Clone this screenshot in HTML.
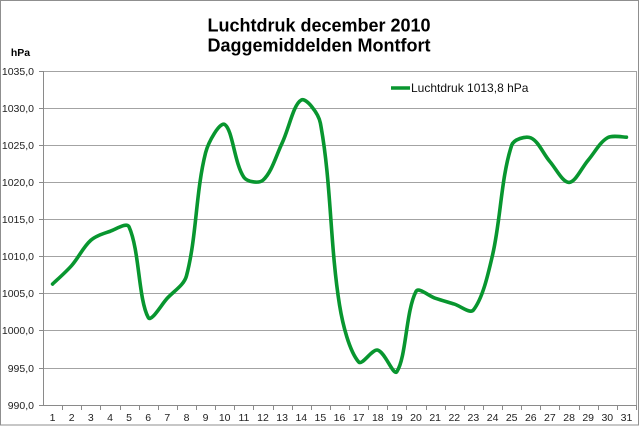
<!DOCTYPE html>
<html>
<head>
<meta charset="utf-8">
<style>
  html,body{margin:0;padding:0;background:#fff;}
  body{width:640px;height:426px;overflow:hidden;}
  svg{display:block;font-family:"Liberation Sans",Arial,sans-serif;}
</style>
</head>
<body>
<svg width="640" height="426" viewBox="0 0 640 426" xmlns="http://www.w3.org/2000/svg">
  <rect x="0" y="0" width="640" height="426" fill="#ffffff"/>
  <!-- outer border -->
  <rect x="0.5" y="0.5" width="638" height="424.5" fill="none" stroke="#8f8f8f" stroke-width="1"/>

  <!-- title -->
  <text x="319" y="31.5" text-anchor="middle" font-size="18" font-weight="bold" fill="#000">Luchtdruk december 2010</text>
  <text x="319" y="51.5" text-anchor="middle" font-size="18" font-weight="bold" fill="#000">Daggemiddelden Montfort</text>

  <!-- unit -->
  <text x="20.5" y="56" text-anchor="middle" font-size="10.5" font-weight="bold" fill="#000">hPa</text>

  <!-- gridlines -->
  <g stroke="#a3a3a3" stroke-width="1">
    <line x1="43" y1="71.5" x2="636" y2="71.5"/>
    <line x1="43" y1="108.5" x2="636" y2="108.5"/>
    <line x1="43" y1="145.5" x2="636" y2="145.5"/>
    <line x1="43" y1="182.5" x2="636" y2="182.5"/>
    <line x1="43" y1="219.5" x2="636" y2="219.5"/>
    <line x1="43" y1="256.5" x2="636" y2="256.5"/>
    <line x1="43" y1="293.5" x2="636" y2="293.5"/>
    <line x1="43" y1="330.5" x2="636" y2="330.5"/>
    <line x1="43" y1="368.5" x2="636" y2="368.5"/>
  </g>
  <!-- plot right border -->
  <line x1="636.5" y1="71" x2="636.5" y2="405" stroke="#a3a3a3" stroke-width="1"/>

  <!-- axes -->
  <g stroke="#8a8a8a" stroke-width="1">
    <line x1="43.5" y1="71" x2="43.5" y2="405.5"/>
    <line x1="43" y1="405.5" x2="636" y2="405.5"/>
    <!-- y ticks -->
    <line x1="39" y1="71.5" x2="43" y2="71.5"/>
    <line x1="39" y1="108.5" x2="43" y2="108.5"/>
    <line x1="39" y1="145.5" x2="43" y2="145.5"/>
    <line x1="39" y1="182.5" x2="43" y2="182.5"/>
    <line x1="39" y1="219.5" x2="43" y2="219.5"/>
    <line x1="39" y1="256.5" x2="43" y2="256.5"/>
    <line x1="39" y1="293.5" x2="43" y2="293.5"/>
    <line x1="39" y1="330.5" x2="43" y2="330.5"/>
    <line x1="39" y1="368.5" x2="43" y2="368.5"/>
    <line x1="39" y1="405.5" x2="43" y2="405.5"/>
  </g>
  <g id="xticks" stroke="#8a8a8a" stroke-width="1"></g>

  <!-- y labels -->
  <g font-size="10.5" fill="#222" text-anchor="end">
    <text x="34" y="75">1035,0</text>
    <text x="34" y="112">1030,0</text>
    <text x="34" y="149">1025,0</text>
    <text x="34" y="186">1020,0</text>
    <text x="34" y="223">1015,0</text>
    <text x="34" y="260">1010,0</text>
    <text x="34" y="297">1005,0</text>
    <text x="34" y="334">1000,0</text>
    <text x="34" y="372">995,0</text>
    <text x="34" y="409">990,0</text>
  </g>

  <!-- x labels -->
  <g font-size="10.5" fill="#222" text-anchor="middle">
    <text x="52.6" y="421">1</text>
    <text x="71.7" y="421">2</text>
    <text x="90.8" y="421">3</text>
    <text x="110.0" y="421">4</text>
    <text x="129.1" y="421">5</text>
    <text x="148.2" y="421">6</text>
    <text x="167.3" y="421">7</text>
    <text x="186.5" y="421">8</text>
    <text x="205.6" y="421">9</text>
    <text x="224.7" y="421">10</text>
    <text x="243.9" y="421">11</text>
    <text x="263.0" y="421">12</text>
    <text x="282.1" y="421">13</text>
    <text x="301.3" y="421">14</text>
    <text x="320.4" y="421">15</text>
    <text x="339.5" y="421">16</text>
    <text x="358.6" y="421">17</text>
    <text x="377.8" y="421">18</text>
    <text x="396.9" y="421">19</text>
    <text x="416.0" y="421">20</text>
    <text x="435.2" y="421">21</text>
    <text x="454.3" y="421">22</text>
    <text x="473.4" y="421">23</text>
    <text x="492.6" y="421">24</text>
    <text x="511.7" y="421">25</text>
    <text x="530.8" y="421">26</text>
    <text x="549.9" y="421">27</text>
    <text x="569.1" y="421">28</text>
    <text x="588.2" y="421">29</text>
    <text x="607.3" y="421">30</text>
    <text x="626.5" y="421">31</text>
  </g>

  <!-- legend -->
  <line x1="391" y1="88" x2="410" y2="88" stroke="#08962f" stroke-width="3.5"/>
  <text x="411" y="92" font-size="12" fill="#111">Luchtdruk 1013,8 hPa</text>

  <!-- series -->
  <path id="ln" fill="none" stroke="#08962f" stroke-width="3.6" stroke-linejoin="round" stroke-linecap="round"
    d="M52.56,284.1 L71.69,265.5 L90.82,240.3 L109.95,231.4 L129.08,226.9 L148.21,317.5 L167.34,298.2 L186.47,275.9 L205.6,152.7 L224.73,124.5 L243.86,177.2 L262.99,180.2 L282.12,143.1 L301.25,100 L320.38,123 L339.51,305 L358.64,362 L377.77,350.1 L396.9,371.6 L416.03,291.5 L435.16,298.2 L454.29,304.1 L473.42,310 L492.55,255.1 L511.68,145.3 L530.81,137.9 L549.94,161.6 L569.07,182.4 L588.2,160.1 L607.33,137.9 L626.46,137.1"/>
</svg>
<script>
(function(){
  var vals=[1006.3,1008.8,1012.2,1013.4,1014.0,1001.8,1004.4,1007.4,1024.0,1027.8,1020.7,1020.3,1025.3,1031.1,1028.0,1003.5,995.8,997.4,994.5,1005.3,1004.4,1003.6,1002.8,1010.2,1025.0,1026.0,1022.8,1020.0,1023.0,1026.0,1026.1];
  var step=593/31;
  var pts=vals.map(function(v,i){return [43+(i+0.5)*step, 405-(v-990)*7.42];});
  function dist(a,b){return Math.sqrt((a[0]-b[0])*(a[0]-b[0])+(a[1]-b[1])*(a[1]-b[1]));}
  var t=1/3;
  var d="M"+pts[0][0].toFixed(2)+","+pts[0][1].toFixed(2);
  for(var i=0;i<pts.length-1;i++){
    var p0=pts[i-1]||pts[i], p1=pts[i], p2=pts[i+1], p3=pts[i+2]||pts[i+1];
    var d01=dist(p0,p1), d12=dist(p1,p2), d23=dist(p2,p3);
    var f1=(d01+d12)>0? d12/(d01+d12)*t : 0;
    var f2=(d12+d23)>0? d12/(d12+d23)*t : 0;
    if(i===0){f1=t*0.5;}
    if(i===pts.length-2){f2=t*0.5;}
    var c1=[p1[0]+(p2[0]-p0[0])*f1, p1[1]+(p2[1]-p0[1])*f1];
    var c2=[p2[0]-(p3[0]-p1[0])*f2, p2[1]-(p3[1]-p1[1])*f2];
    d+=" C"+c1[0].toFixed(2)+","+c1[1].toFixed(2)+" "+c2[0].toFixed(2)+","+c2[1].toFixed(2)+" "+p2[0].toFixed(2)+","+p2[1].toFixed(2);
  }
  document.getElementById("ln").setAttribute("d",d);
  var g=document.getElementById("xticks");
  var ns="http://www.w3.org/2000/svg";
  for(var k=1;k<=31;k++){
    var x=Math.round(43+k*step)+0.5;
    var l=document.createElementNS(ns,"line");
    l.setAttribute("x1",x);l.setAttribute("x2",x);
    l.setAttribute("y1",405);l.setAttribute("y2",410);
    g.appendChild(l);
  }
})();
</script>
</body>
</html>
